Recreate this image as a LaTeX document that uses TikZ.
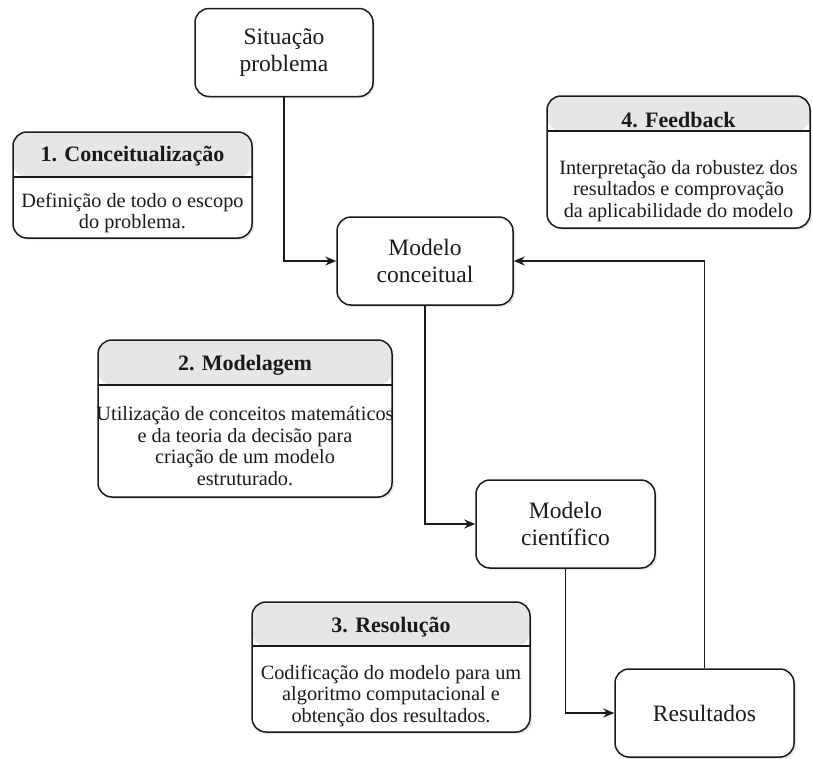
\documentclass[tikz,border=0pt]{standalone}
\usepackage{fontspec}
\setmainfont{Liberation Serif}
\usetikzlibrary{shadows,arrows.meta}
\definecolor{hdr}{HTML}{E6E6E6}
\definecolor{ink}{HTML}{1A1A1A}
\tikzset{
  boxbase/.style={draw=ink, line width=1.5pt, rounded corners=14pt, fill=white,
    drop shadow={opacity=0.18, shadow xshift=2pt, shadow yshift=-2pt}, inner sep=0pt},
  mainbox/.style={boxbase, minimum width=178pt, minimum height=88pt, align=center,
    text=ink, font=\fontsize{23.5}{27.5}\selectfont},
  infobox/.style={boxbase, path picture={
      \fill[hdr] (path picture bounding box.north west) rectangle ([yshift=-#1]path picture bounding box.north east);
      \draw[ink, line width=1.5pt] ([yshift=-#1]path picture bounding box.north west) -- ([yshift=-#1]path picture bounding box.north east);}},
  infotitle/.style={anchor=base, text=ink, font=\fontsize{22}{26}\bfseries, inner sep=0pt},
  infobody/.style={align=center, text=ink, font=\fontsize{20.3}{21.5}\selectfont, inner sep=0pt},
  arr/.style={draw=ink, line width=1.5pt, -{Stealth[length=11pt,width=9pt]}}
}
\begin{document}
\begin{tikzpicture}[x=1pt,y=-1pt]
\useasboundingbox (0,0) rectangle (813,758);
% info boxes
\node[infobox=45pt, minimum width=239pt, minimum height=106pt] (c1) at (132.5,185) {};
\node[infotitle] (c1t) at (132.5,161) {1. Conceitualização};
\node[infobody] (c1b) at (132.5,213) {Definição de todo o escopo\\do problema.};

\node[infobox=35pt, minimum width=263pt, minimum height=132pt] (c4) at (678.5,162) {};
\node[infotitle] (c4t) at (678.5,127) {4. Feedback};
\node[infobody] (c4b) at (678.5,191) {Interpretação da robustez dos\\resultados e comprovação\\da aplicabilidade do modelo};

\node[infobox=45pt, minimum width=294pt, minimum height=157pt] (c2) at (245,418.5) {};
\node[infotitle] (c2t) at (245,370) {2. Modelagem};
\node[infobody] (c2b) at (245,446) {Utilização de conceitos matemáticos\\e da teoria da decisão para\\criação de um modelo\\estruturado.};

\node[infobox=44pt, minimum width=278pt, minimum height=130pt] (c3) at (391,667) {};
\node[infotitle] (c3t) at (391,632) {3. Resolução};
\node[infobody] (c3b) at (391,696) {Codificação do modelo para um\\algoritmo computacional e\\obtenção dos resultados.};

% main boxes
\node[mainbox] (sit) at (284,52.5) {Situação\\problema};
\node[mainbox, minimum width=176pt] (mc) at (425,261) {Modelo\\conceitual};
\node[mainbox, minimum width=179pt] (ms) at (565.5,524) {Modelo\\científico};
\node[mainbox, minimum width=179pt] (res) at (704.5,713) {Resultados};

% connectors
\draw[arr] (sit.south) |- (mc.west);
\draw[arr] (mc.south) |- (ms.west);
\draw[arr] (ms.south) |- (res.west);
\draw[arr] (res.north) |- (mc.east);
\end{tikzpicture}
\end{document}
